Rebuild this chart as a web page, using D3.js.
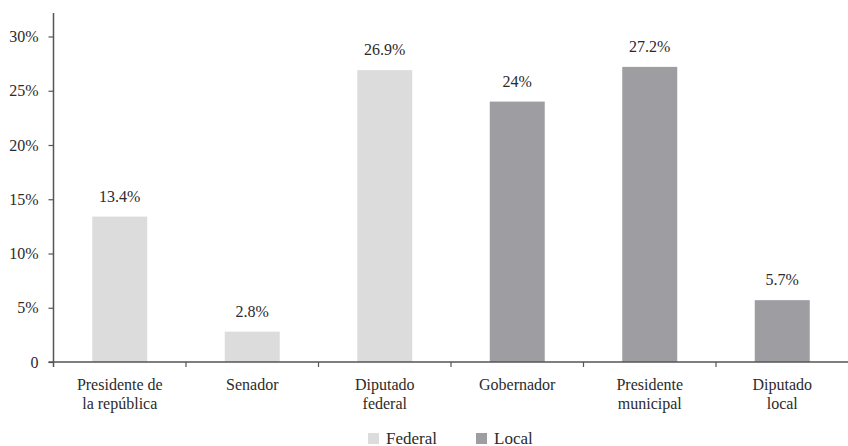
<!DOCTYPE html>
<html>
<head>
<meta charset="utf-8">
<script src="https://cdn.jsdelivr.net/npm/d3@7"></script>
<style>
  html, body { margin: 0; padding: 0; background: #fff; }
  svg { display: block; }
  #chart text, #chart tspan { font-family: "Liberation Serif", Tinos, "Times New Roman", serif !important; }
</style>
</head>
<body>
<svg id="chart" width="848" height="446" font-family="Liberation Serif, Tinos, Times New Roman, serif"></svg>
<script>
// Cargos de elección y porcentaje correspondiente
const categories = [
  ["Presidente de", "la república"],
  ["Senador"],
  ["Diputado", "federal"],
  ["Gobernador"],
  ["Presidente", "municipal"],
  ["Diputado", "local"]
];
const values = [13.4, 2.8, 26.9, 24, 27.2, 5.7];
const levels = ["Federal", "Federal", "Federal", "Local", "Local", "Local"];
const legendItems = ["Federal", "Local"];
const yTicks = [0, 5, 10, 15, 20, 25, 30];

const colors = { Federal: "#dcdcdd", Local: "#9e9ea2" };
const axisColor = "#555";
const textColor = "#2b2b2b";

const svg = d3.select("#chart");
const keys = categories.map(c => c.join(" "));

const plotLeft = 53.5, plotRight = 848.5, plotBottom = 362, plotTop = 36.5;

const x = d3.scaleBand()
  .domain(keys)
  .range([plotLeft, plotRight])
  .paddingInner(0.585)
  .paddingOuter(0.2925);

const y = d3.scaleLinear().domain([0, 30]).range([plotBottom, plotTop]);

// Bars
svg.append("g").selectAll("rect")
  .data(values)
  .join("rect")
  .attr("x", (d, i) => x(keys[i]))
  .attr("y", d => y(d))
  .attr("width", x.bandwidth())
  .attr("height", d => y(0) - y(d))
  .attr("fill", (d, i) => colors[levels[i]]);

// Value labels
svg.append("g").selectAll("text")
  .data(values)
  .join("text")
  .attr("x", (d, i) => x(keys[i]) + x.bandwidth() / 2)
  .attr("y", d => y(d) - 15)
  .attr("text-anchor", "middle")
  .attr("font-size", 16)
  .attr("fill", textColor)
  .text(d => d + "%");

// Y axis
const yAxis = d3.axisLeft(y)
  .tickValues(yTicks)
  .tickSize(5)
  .tickPadding(10)
  .tickFormat(d => d === 0 ? "0" : d + "%");

const gy = svg.append("g")
  .attr("transform", `translate(${plotLeft},0)`)
  .call(yAxis)
  .attr("font-family", null)
  .attr("font-size", 16);
gy.select(".domain").remove();
gy.selectAll(".tick line").attr("stroke", axisColor).attr("stroke-width", 1.2);
gy.selectAll(".tick text").attr("fill", textColor);

// Axis lines
svg.append("line")
  .attr("x1", plotLeft).attr("x2", plotLeft)
  .attr("y1", 13).attr("y2", plotBottom + 5)
  .attr("stroke", axisColor).attr("stroke-width", 1.5);
svg.append("line")
  .attr("x1", plotLeft - 5).attr("x2", plotRight)
  .attr("y1", plotBottom).attr("y2", plotBottom)
  .attr("stroke", axisColor).attr("stroke-width", 1.5);

// Category separator ticks
const step = x.step();
const separators = d3.range(1, keys.length).map(i => plotLeft + i * step);
svg.append("g").selectAll("line")
  .data(separators)
  .join("line")
  .attr("x1", d => d).attr("x2", d => d)
  .attr("y1", plotBottom).attr("y2", plotBottom + 5)
  .attr("stroke", axisColor).attr("stroke-width", 1.2);

// Category labels
const catLabels = svg.append("g").selectAll("text")
  .data(categories)
  .join("text")
  .attr("text-anchor", "middle")
  .attr("font-size", 16)
  .attr("fill", textColor);
catLabels.each(function (lines, i) {
  const cx = x(keys[i]) + x.bandwidth() / 2;
  d3.select(this).selectAll("tspan")
    .data(lines)
    .join("tspan")
    .attr("x", cx)
    .attr("y", (d, j) => 390 + j * 19)
    .text(d => d);
});

// Legend
const legendX = [368, 476];
const legend = svg.append("g").selectAll("g")
  .data(legendItems)
  .join("g")
  .attr("transform", (d, i) => `translate(${legendX[i]},433)`);
legend.append("rect")
  .attr("width", 11).attr("height", 11)
  .attr("fill", d => colors[d]);
legend.append("text")
  .attr("x", 18).attr("y", 10.5)
  .attr("font-size", 17)
  .attr("fill", textColor)
  .text(d => d);
</script>
</body>
</html>
